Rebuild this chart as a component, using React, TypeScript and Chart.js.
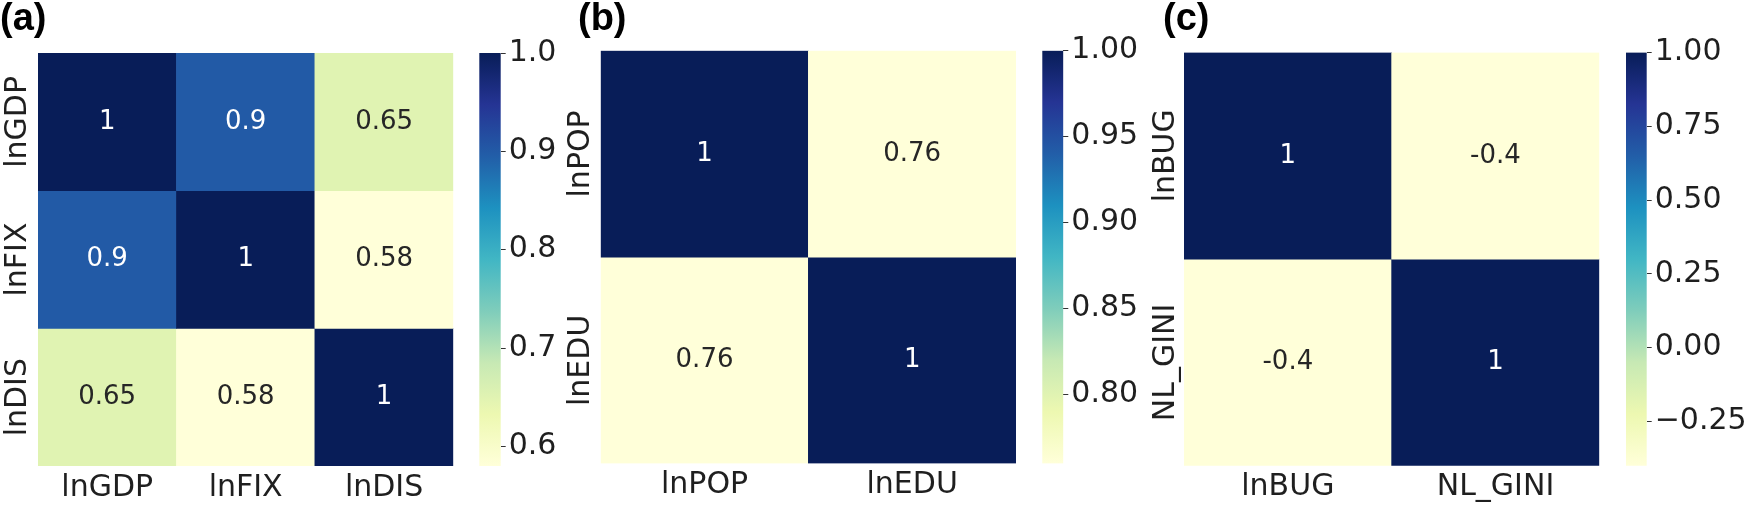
import React, { useEffect, useRef } from "react";
import { Chart, registerables } from "chart.js";

Chart.register(...registerables);

const FONT = "'DejaVu Sans', 'Liberation Sans', sans-serif";

// ---------- DATA ----------
// Panel (a)
const colsA = ["lnGDP", "lnFIX", "lnDIS"];
const valuesA = [
  [1, 0.9, 0.65],
  [0.9, 1, 0.58],
  [0.65, 0.58, 1],
];
const cbTicksA = [0.6, 0.7, 0.8, 0.9, 1.0];
const cbTickLabelsA = ["0.6", "0.7", "0.8", "0.9", "1.0"];

// Panel (b)
const colsB = ["lnPOP", "lnEDU"];
const valuesB = [
  [1, 0.76],
  [0.76, 1],
];
const cbTicksB = [0.8, 0.85, 0.9, 0.95, 1.0];
const cbTickLabelsB = ["0.80", "0.85", "0.90", "0.95", "1.00"];

// Panel (c)
const colsC = ["lnBUG", "NL_GINI"];
const valuesC = [
  [1, -0.4],
  [-0.4, 1],
];
const cbTicksC = [-0.25, 0, 0.25, 0.5, 0.75, 1.0];
const cbTickLabelsC = ["\u22120.25", "0.00", "0.25", "0.50", "0.75", "1.00"];

const panelTitles = ["(a)", "(b)", "(c)"];

// ---------- COLORMAP (YlGnBu) ----------
const YLGNBU = [
  "#ffffd9", "#edf8b1", "#c7e9b4", "#7fcdbb", "#41b6c4",
  "#1d91c0", "#225ea8", "#253494", "#081d58",
];

function hexToRgb(h: string): number[] {
  const v = parseInt(h.slice(1), 16);
  return [(v >> 16) & 255, (v >> 8) & 255, v & 255];
}

function cmapRgb(t: number): number[] {
  const tt = Math.max(0, Math.min(1, t));
  const p = tt * (YLGNBU.length - 1);
  const i = Math.min(YLGNBU.length - 2, Math.floor(p));
  const f = p - i;
  const a = hexToRgb(YLGNBU[i]);
  const b = hexToRgb(YLGNBU[i + 1]);
  return a.map((x, k) => Math.round(x + (b[k] - x) * f));
}

function rgbStr(c: number[]) {
  return `rgb(${c[0]},${c[1]},${c[2]})`;
}

function luminance(c: number[]) {
  const lin = c.map((x) => {
    const v = x / 255;
    return v <= 0.03928 ? v / 12.92 : Math.pow((v + 0.055) / 1.055, 2.4);
  });
  return 0.2126 * lin[0] + 0.7152 * lin[1] + 0.0722 * lin[2];
}

// ---------- LAYOUT ----------
const H = 506;
type Box = { left: number; right: number; top: number; bottom: number };
type PanelLayout = {
  titleLeft: number;
  heatCanvasLeft: number;
  heatCanvasWidth: number;
  heat: Box;
  yLabelGap: number;
  cbCanvasLeft: number;
  cbCanvasWidth: number;
  cb: Box;
};

const layouts: PanelLayout[] = [
  {
    titleLeft: 0,
    heatCanvasLeft: 0,
    heatCanvasWidth: 460,
    heat: { left: 38, right: 453.3, top: 53, bottom: 466 },
    yLabelGap: 12.5,
    cbCanvasLeft: 460,
    cbCanvasWidth: 120,
    cb: { left: 479.3, right: 500.7, top: 53, bottom: 466 },
  },
  {
    titleLeft: 578,
    heatCanvasLeft: 560,
    heatCanvasWidth: 460,
    heat: { left: 600.7, right: 1016, top: 50.7, bottom: 463.5 },
    yLabelGap: 11.5,
    cbCanvasLeft: 1020,
    cbCanvasWidth: 140,
    cb: { left: 1042.3, right: 1063.3, top: 50.7, bottom: 463.5 },
  },
  {
    titleLeft: 1163,
    heatCanvasLeft: 1140,
    heatCanvasWidth: 465,
    heat: { left: 1184, right: 1599.3, top: 52.5, bottom: 465.7 },
    yLabelGap: 10,
    cbCanvasLeft: 1605,
    cbCanvasWidth: 143,
    cb: { left: 1626, right: 1646.7, top: 52.5, bottom: 465.7 },
  },
];

const TICK_SIZE = 30;
const ANNOT_SIZE = 26;
const TEXT_COLOR = "#1f1f1f";

// ---------- PLUGINS ----------
const yLabelPlugin = {
  id: "yLabels",
  afterDraw(chart: any, _args: any, opts: any) {
    const ys = chart.scales.y;
    const ctx = chart.ctx;
    ctx.save();
    ctx.font = `${TICK_SIZE}px ${FONT}`;
    ctx.fillStyle = TEXT_COLOR;
    ctx.textAlign = "center";
    ctx.textBaseline = "alphabetic";
    (opts.labels as string[]).forEach((lab, r) => {
      ctx.save();
      ctx.translate(opts.x, ys.getPixelForValue(r + 0.5));
      ctx.rotate(-Math.PI / 2);
      ctx.fillText(lab, 0, 0);
      ctx.restore();
    });
    ctx.restore();
  },
};

const annotPlugin = {
  id: "annot",
  afterDatasetsDraw(chart: any, _args: any, opts: any) {
    const ctx = chart.ctx;
    const values: number[][] = opts.values;
    ctx.save();
    ctx.font = `${ANNOT_SIZE}px ${FONT}`;
    ctx.textAlign = "center";
    ctx.textBaseline = "middle";
    values.forEach((row, r) => {
      const meta = chart.getDatasetMeta(r);
      row.forEach((v, c) => {
        const el = meta.data[c];
        const col = cmapRgb((v - opts.vmin) / (opts.vmax - opts.vmin));
        ctx.fillStyle = luminance(col) > 0.408 ? "#262626" : "#ffffff";
        ctx.fillText(String(v), el.x, (el.y + el.base) / 2);
      });
    });
    ctx.restore();
  },
};

function heatmapConfig(cols: string[], values: number[][], L: PanelLayout) {
  const flat = values.flat();
  const vmin = Math.min(...flat);
  const vmax = Math.max(...flat);
  const n = values.length;
  const datasets = values.map((row, r) => ({
    label: cols[r],
    data: row.map(() => [r, r + 1]),
    backgroundColor: row.map((v) => rgbStr(cmapRgb((v - vmin) / (vmax - vmin)))),
    borderWidth: 0,
    grouped: false,
    barPercentage: 1,
    categoryPercentage: 1,
  }));
  return {
    type: "bar",
    data: { labels: cols, datasets },
    plugins: [annotPlugin, yLabelPlugin],
    options: {
      responsive: false,
      animation: false,
      devicePixelRatio: 1,
      layout: {
        padding: {
          top: L.heat.top,
          right: L.heatCanvasLeft + L.heatCanvasWidth - L.heat.right,
          bottom: 0,
          left: 0,
        },
      },
      plugins: {
        legend: { display: false },
        tooltip: { enabled: false },
        annot: { values, vmin, vmax },
        yLabels: { labels: cols, x: L.heat.left - L.yLabelGap - L.heatCanvasLeft },
      },
      scales: {
        x: {
          type: "category",
          position: "bottom",
          grid: { display: false, drawTicks: false },
          border: { display: false },
          ticks: {
            color: TEXT_COLOR,
            font: { family: FONT, size: TICK_SIZE },
            padding: 4,
            maxRotation: 0,
            minRotation: 0,
            autoSkip: false,
          },
          afterFit: (s: any) => {
            s.height = H - L.heat.bottom;
          },
        },
        y: {
          type: "linear",
          min: 0,
          max: n,
          reverse: true,
          grid: { display: false, drawTicks: false },
          border: { display: false },
          ticks: { display: false },
          afterFit: (s: any) => {
            s.width = L.heat.left - L.heatCanvasLeft;
          },
        },
      },
    },
  };
}

function colorbarConfig(values: number[][], tickVals: number[], tickLabels: string[], L: PanelLayout) {
  const flat = values.flat();
  const vmin = Math.min(...flat);
  const vmax = Math.max(...flat);
  return {
    type: "bar",
    data: {
      labels: [""],
      datasets: [
        {
          data: [[vmin, vmax]],
          backgroundColor: (ctx: any) => {
            const chart = ctx.chart;
            if (!chart.chartArea) return YLGNBU[0];
            const ys = chart.scales.y;
            const g = chart.ctx.createLinearGradient(
              0,
              ys.getPixelForValue(vmin),
              0,
              ys.getPixelForValue(vmax)
            );
            YLGNBU.forEach((c, i) => g.addColorStop(i / (YLGNBU.length - 1), c));
            return g;
          },
          borderWidth: 0,
          barPercentage: 1,
          categoryPercentage: 1,
        },
      ],
    },
    options: {
      responsive: false,
      animation: false,
      devicePixelRatio: 1,
      layout: {
        padding: {
          top: L.cb.top,
          bottom: H - L.cb.bottom,
          left: L.cb.left - L.cbCanvasLeft,
          right: 0,
        },
      },
      plugins: { legend: { display: false }, tooltip: { enabled: false } },
      scales: {
        x: { display: false },
        y: {
          type: "linear",
          position: "right",
          min: vmin,
          max: vmax,
          grid: {
            drawOnChartArea: false,
            drawTicks: true,
            tickLength: 5,
            color: "#333333",
            lineWidth: 1,
          },
          border: { display: false },
          ticks: {
            color: TEXT_COLOR,
            font: { family: FONT, size: TICK_SIZE },
            padding: 3,
            autoSkip: false,
            callback: (v: number) => {
              const i = tickVals.findIndex((t) => Math.abs(t - v) < 1e-9);
              return i >= 0 ? tickLabels[i] : "";
            },
          },
          afterBuildTicks: (s: any) => {
            s.ticks = tickVals.map((v) => ({ value: v }));
          },
          afterFit: (s: any) => {
            s.width = L.cbCanvasLeft + L.cbCanvasWidth - L.cb.right;
          },
        },
      },
    },
  };
}

const panels = [
  { cols: colsA, values: valuesA, ticks: cbTicksA, labels: cbTickLabelsA },
  { cols: colsB, values: valuesB, ticks: cbTicksB, labels: cbTickLabelsB },
  { cols: colsC, values: valuesC, ticks: cbTicksC, labels: cbTickLabelsC },
];

export default function App() {
  const heatRefs = [useRef<HTMLCanvasElement>(null), useRef<HTMLCanvasElement>(null), useRef<HTMLCanvasElement>(null)];
  const cbRefs = [useRef<HTMLCanvasElement>(null), useRef<HTMLCanvasElement>(null), useRef<HTMLCanvasElement>(null)];

  useEffect(() => {
    const charts: Chart[] = [];
    panels.forEach((p, i) => {
      const L = layouts[i];
      const hc = heatRefs[i].current;
      const cc = cbRefs[i].current;
      if (hc) charts.push(new Chart(hc, heatmapConfig(p.cols, p.values, L) as any));
      if (cc) charts.push(new Chart(cc, colorbarConfig(p.values, p.ticks, p.labels, L) as any));
    });
    return () => charts.forEach((c) => c.destroy());
  }, []);

  return (
    <div
      style={{
        position: "absolute",
        left: 0,
        top: 0,
        width: 1748,
        height: H,
        background: "#ffffff",
        overflow: "hidden",
      }}
    >
      {layouts.map((L, i) => (
        <React.Fragment key={i}>
          <canvas
            ref={heatRefs[i]}
            width={L.heatCanvasWidth}
            height={H}
            style={{
              position: "absolute",
              left: L.heatCanvasLeft,
              top: 0,
              width: L.heatCanvasWidth,
              height: H,
            }}
          />
          <canvas
            ref={cbRefs[i]}
            width={L.cbCanvasWidth}
            height={H}
            style={{
              position: "absolute",
              left: L.cbCanvasLeft,
              top: 0,
              width: L.cbCanvasWidth,
              height: H,
            }}
          />
          <div
            style={{
              position: "absolute",
              left: L.titleLeft,
              top: -2.2,
              font: "bold 38px 'Liberation Sans', Arial, sans-serif",
              lineHeight: "38px",
              color: "#000000",
              whiteSpace: "nowrap",
            }}
          >
            {panelTitles[i]}
          </div>
        </React.Fragment>
      ))}
    </div>
  );
}
